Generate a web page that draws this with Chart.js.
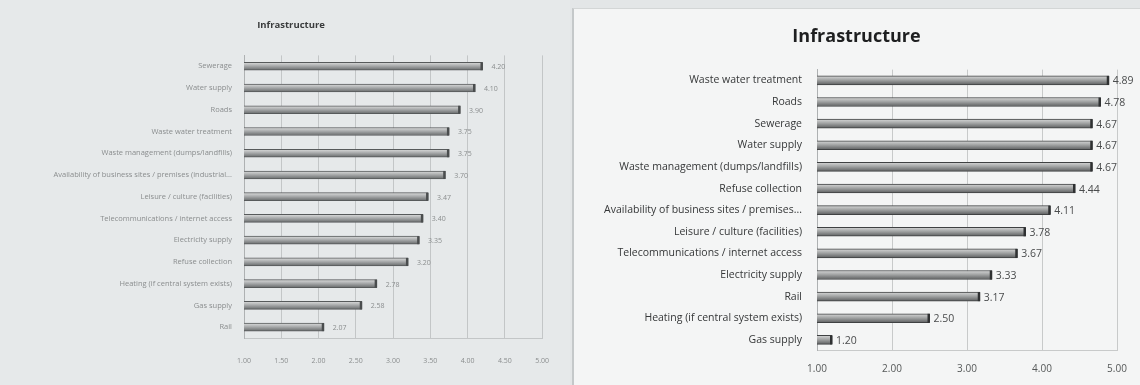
<!DOCTYPE html>
<html>
<head>
<meta charset="utf-8">
<script src="https://cdn.jsdelivr.net/npm/chart.js@4/dist/chart.umd.min.js"></script>
<style>
  body { margin: 0; width: 1140px; height: 385px; background: #e3e6e7; overflow: hidden; position: relative; }
  #leftPanel { position: absolute; left: 0; top: 0; width: 570px; height: 385px; background: #e6e9ea; }
  #rightPanel { position: absolute; left: 572px; top: 8px; width: 568px; height: 377px; background: #f4f5f5;
                border-left: 2px solid #c4c8c9; border-top: 1px solid #d3d6d6; box-sizing: border-box; }
  #leftChart { position: absolute; left: 0; top: 0; filter: blur(0.5px); }
  #rightChart { position: absolute; left: 574px; top: 0; }
</style>
</head>
<body>
<div id="leftPanel"></div>
<div id="rightPanel"></div>
<canvas id="leftChart" width="568" height="385"></canvas>
<canvas id="rightChart" width="566" height="385"></canvas>
<script>
// first survey round
const leftCategories = [
  'Sewerage', 'Water supply', 'Roads', 'Waste water treatment',
  'Waste management (dumps/landfills)',
  'Availability of business sites / premises (industrial...',
  'Leisure / culture (facilities)', 'Telecommunications / internet access',
  'Electricity supply', 'Refuse collection', 'Heating (if central system exists)',
  'Gas supply', 'Rail'
];
const leftValues = [4.20, 4.10, 3.90, 3.75, 3.75, 3.70, 3.47, 3.40, 3.35, 3.20, 2.78, 2.58, 2.07];

// second survey round
const rightCategories = [
  'Waste water treatment', 'Roads', 'Sewerage', 'Water supply',
  'Waste management (dumps/landfills)', 'Refuse collection',
  'Availability of business sites / premises...', 'Leisure / culture (facilities)',
  'Telecommunications / internet access', 'Electricity supply', 'Rail',
  'Heating (if central system exists)', 'Gas supply'
];
const rightValues = [4.89, 4.78, 4.67, 4.67, 4.67, 4.44, 4.11, 3.78, 3.67, 3.33, 3.17, 2.50, 1.20];

const chartTitle = 'Infrastructure';

// shaded bar, light on top and dark underneath
function barFill(stops, thickness) {
  return (c) => {
    const chart = c.chart;
    if (!chart.chartArea || c.type !== 'data') return stops[1];
    const y = chart.scales.y.getPixelForValue(c.dataIndex);
    const g = chart.ctx.createLinearGradient(0, y - thickness / 2, 0, y + thickness / 2);
    g.addColorStop(0, stops[0]);
    g.addColorStop(0.45, stops[1]);
    g.addColorStop(1, stops[2]);
    return g;
  };
}

// dark cap at the end of each bar plus its value
const barValueLabels = {
  id: 'barValueLabels',
  afterDatasetsDraw(chart, args, opts) {
    const ctx = chart.ctx;
    const values = chart.data.datasets[0].data;
    ctx.save();
    ctx.font = opts.font;
    ctx.textBaseline = 'middle';
    ctx.textAlign = 'left';
    chart.getDatasetMeta(0).data.forEach((bar, i) => {
      ctx.fillStyle = opts.capColor;
      ctx.fillRect(bar.x - 2, bar.y - bar.height / 2, 2.5, bar.height);
      ctx.fillStyle = opts.color;
      ctx.fillText(values[i].toFixed(2), bar.x + opts.offset, bar.y + 1);
    });
    ctx.restore();
  }
};

function makeChart(id, labels, values, s) {
  return new Chart(document.getElementById(id), {
    type: 'bar',
    data: {
      labels: labels,
      datasets: [{
        data: values,
        barThickness: s.bar,
        backgroundColor: barFill(s.fill, s.bar),
        borderColor: s.border,
        borderWidth: 1,
        borderSkipped: false
      }]
    },
    plugins: [barValueLabels],
    options: {
      indexAxis: 'y',
      responsive: false,
      animation: false,
      layout: { padding: { left: s.padLeft, right: s.padRight, top: 0, bottom: 0 } },
      plugins: {
        legend: { display: false },
        tooltip: { enabled: false },
        title: {
          display: true,
          text: chartTitle,
          color: s.titleColor,
          font: { family: 'Open Sans', size: s.titleSize, weight: 'bold' },
          padding: { top: s.titleTop, bottom: s.titleBottom }
        },
        barValueLabels: { font: s.valueFont, color: s.valueColor, capColor: s.cap, offset: s.valueOffset }
      },
      scales: {
        x: {
          min: 1, max: 5,
          afterFit: (scale) => { scale.height = s.xHeight; },
          ticks: {
            stepSize: s.step,
            padding: s.xPad,
            color: s.tickColor,
            font: { family: 'Open Sans', size: s.xFont },
            callback: (v) => Number(v).toFixed(2)
          },
          grid: { color: s.grid, drawTicks: false },
          border: { display: true, color: s.grid }
        },
        y: {
          afterFit: (scale) => { scale.width = s.yWidth; },
          ticks: {
            padding: s.yPad,
            color: s.labelColor,
            font: { family: 'Open Sans', size: s.yFont }
          },
          grid: { display: false, drawTicks: false },
          border: { display: true, color: '#aeb1b2' }
        }
      }
    }
  });
}

makeChart('leftChart', leftCategories, leftValues, {
  bar: 8,
  fill: ['#dcdddd', '#a9abac', '#676a6b'],
  border: '#575a5b',
  cap: '#4a4d4e',
  padLeft: 32, padRight: 18,
  titleColor: '#3a3c3d', titleSize: 9.5, titleTop: 20, titleBottom: 24,
  valueFont: '7px "Open Sans"', valueColor: '#8a8d8e', valueOffset: 9,
  xHeight: 47, step: 0.5, xPad: 19, tickColor: '#8a8d8e', xFont: 7,
  grid: '#c3c6c7',
  yWidth: 212, yPad: 12, labelColor: '#8a8d8e', yFont: 7.5
});

makeChart('rightChart', rightCategories, rightValues, {
  bar: 9,
  fill: ['#d6d7d7', '#a2a4a4', '#5c5e5f'],
  border: '#3f4142',
  cap: '#2f3132',
  padLeft: 22, padRight: 23,
  titleColor: '#1e1f20', titleSize: 18, titleTop: 26, titleBottom: 22,
  valueFont: '10.5px "Open Sans"', valueColor: '#4a4c4d', valueOffset: 4,
  xHeight: 34.3, step: 1, xPad: 12, tickColor: '#555858', xFont: 10,
  grid: '#c8caca',
  yWidth: 221, yPad: 15, labelColor: '#353738', yFont: 10.5
});
</script>
</body>
</html>
